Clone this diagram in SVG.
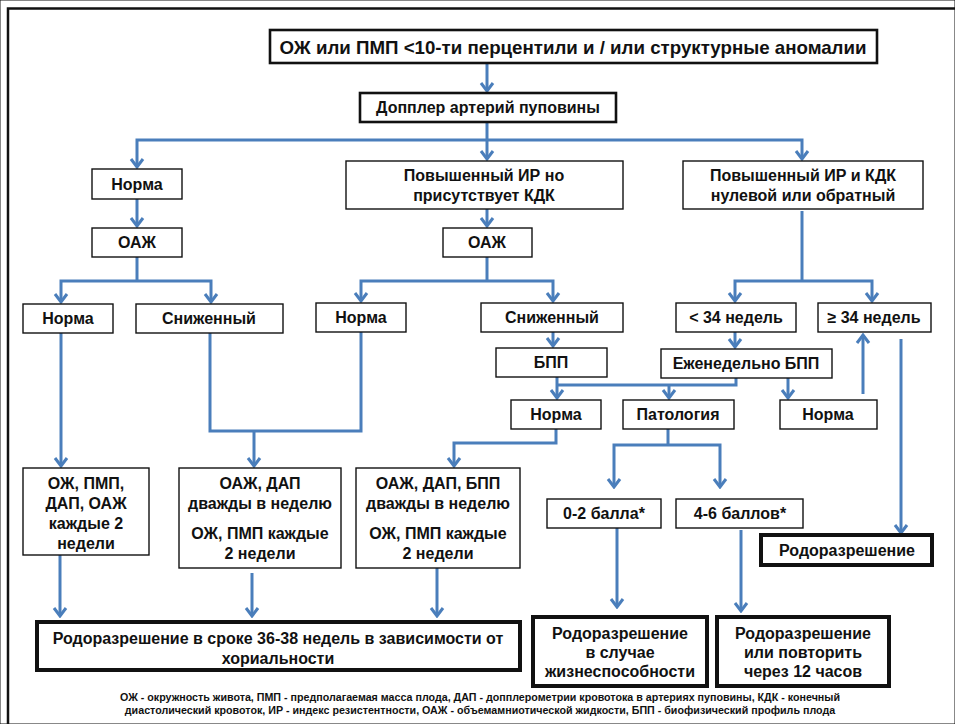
<svg xmlns="http://www.w3.org/2000/svg" width="955" height="724" viewBox="0 0 955 724">
<defs>
<marker id="ah" viewBox="-10 -8 12 16" markerWidth="12" markerHeight="16" refX="0" refY="0" orient="auto" markerUnits="userSpaceOnUse">
<path d="M-8,-6 L0,0 L-8,6" fill="none" stroke="#4A7EBB" stroke-width="3"/>
</marker>
<style>
text{font-family:"Liberation Sans",Arial,sans-serif;font-weight:bold;fill:#111;text-anchor:middle}
.t{font-size:16px}
.big{font-size:19px}
.fn{font-size:10.7px}
rect{fill:#fff;stroke:#111}
.n rect{stroke-width:1.4}
.k rect{stroke-width:2.6}
.kk rect{stroke-width:4}
#conn path{fill:none;stroke:#4A7EBB;stroke-width:3}
#conn .a{marker-end:url(#ah)}
</style>
</defs>
<rect width="955" height="724" fill="#fff" stroke="none"/>
<path d="M8,724 V8.5 H955" fill="none" stroke="#111" stroke-width="2.5"/>

<g id="conn">
<path class="a" d="M487,63 V91"/>
<path class="a" d="M487,122 V159"/>
<path class="a" d="M487,140 H137 V167"/>
<path class="a" d="M487,140 H802 V159"/>
<path class="a" d="M137,199 V226"/>
<path class="a" d="M487,209 V226"/>
<path d="M137,257 V281"/>
<path class="a" d="M137,281 H61 V302"/>
<path class="a" d="M137,281 H211 V302"/>
<path d="M487,257 V281"/>
<path class="a" d="M487,281 H361 V301"/>
<path class="a" d="M487,281 H553 V301"/>
<path d="M802,211 V281"/>
<path class="a" d="M802,281 H735 V301"/>
<path class="a" d="M802,281 H872 V301"/>
<path class="a" d="M553,332 V346"/>
<path class="a" d="M735,332 V347"/>
<path d="M736,378 V385 H557"/>
<path class="a" d="M557,377 V398"/>
<path class="a" d="M669,385 V398"/>
<path class="a" d="M788,378 V398"/>
<path class="a" d="M863,394 V335"/>
<path class="a" d="M901,339 V533"/>
<path class="a" d="M61,333 V466"/>
<path d="M210,333 V431 H361 V332"/>
<path class="a" d="M254,431 V466"/>
<path class="a" d="M556,429 V443 H454 V466"/>
<path d="M668,429 V445"/>
<path class="a" d="M668,445 H614 V487"/>
<path class="a" d="M668,445 H720 V487"/>
<path class="a" d="M617,528 V607"/>
<path class="a" d="M741,530 V611"/>
<path class="a" d="M60,555 V616"/>
<path class="a" d="M252,573 V616"/>
<path class="a" d="M437,568 V616"/>
</g>

<g id="n-top" class="k"><rect x="270" y="30" width="607" height="33"/><text class="big" x="573" y="54" textLength="587" lengthAdjust="spacingAndGlyphs">ОЖ или ПМП &lt;10-ти перцентили и / или структурные аномалии</text></g>
<g id="n-doppler" class="k"><rect x="360" y="93" width="256" height="29"/><text class="t" x="488" y="113">Допплер артерий пуповины</text></g>
<g id="n-norma1" class="n"><rect x="92" y="169" width="90" height="30"/><text class="t" x="137" y="190">Норма</text></g>
<g id="n-ir-kdk" class="n"><rect x="346" y="161" width="277" height="48"/><text class="t" x="484" y="181">Повышенный ИР но</text><text class="t" x="484" y="201">присутствует КДК</text></g>
<g id="n-ir-zero" class="n"><rect x="683" y="161" width="240" height="48"/><text class="t" x="803" y="181">Повышенный ИР и КДК</text><text class="t" x="803" y="201">нулевой или обратный</text></g>
<g id="n-oaj1" class="n"><rect x="92" y="228" width="90" height="29"/><text class="t" x="137" y="248">ОАЖ</text></g>
<g id="n-oaj2" class="n"><rect x="443" y="228" width="89" height="29"/><text class="t" x="487" y="248">ОАЖ</text></g>
<g id="n-normaL" class="n"><rect x="23" y="304" width="90" height="29"/><text class="t" x="68" y="324">Норма</text></g>
<g id="n-snizhL" class="n"><rect x="136" y="304" width="147" height="29"/><text class="t" x="209" y="324">Сниженный</text></g>
<g id="n-norma2" class="n"><rect x="316" y="303" width="90" height="29"/><text class="t" x="361" y="323">Норма</text></g>
<g id="n-snizh2" class="n"><rect x="481" y="303" width="142" height="29"/><text class="t" x="552" y="323">Сниженный</text></g>
<g id="n-lt34" class="n"><rect x="676" y="303" width="120" height="29"/><text class="t" x="736" y="323">&lt; 34 недель</text></g>
<g id="n-ge34" class="n"><rect x="818" y="303" width="113" height="29"/><text class="t" x="874" y="323">≥ 34 недель</text></g>
<g id="n-bpp" class="n"><rect x="496" y="348" width="111" height="29"/><text class="t" x="551" y="368">БПП</text></g>
<g id="n-weekly" class="n"><rect x="661" y="349" width="171" height="29"/><text class="t" x="746" y="369">Еженедельно БПП</text></g>
<g id="n-norma-mid" class="n"><rect x="511" y="400" width="90" height="29"/><text class="t" x="556" y="420">Норма</text></g>
<g id="n-path" class="n"><rect x="623" y="400" width="111" height="29"/><text class="t" x="678" y="420">Патология</text></g>
<g id="n-norma3" class="n"><rect x="780" y="400" width="97" height="29"/><text class="t" x="828" y="420">Норма</text></g>
<g id="n-mon1" class="n"><rect x="23" y="468" width="126" height="87"/><text class="t" x="86" y="489">ОЖ, ПМП,</text><text class="t" x="86" y="509">ДАП, ОАЖ</text><text class="t" x="86" y="529">каждые 2</text><text class="t" x="86" y="549">недели</text></g>
<g id="n-mon2" class="n"><rect x="179" y="468" width="162" height="100"/><text class="t" x="260" y="489">ОАЖ, ДАП</text><text class="t" x="260" y="509">дважды в неделю</text><text class="t" x="260" y="539">ОЖ, ПМП каждые</text><text class="t" x="260" y="559">2 недели</text></g>
<g id="n-mon3" class="n"><rect x="356" y="468" width="164" height="100"/><text class="t" x="438" y="489">ОАЖ, ДАП, БПП</text><text class="t" x="438" y="509">дважды в неделю</text><text class="t" x="438" y="539">ОЖ, ПМП каждые</text><text class="t" x="438" y="559">2 недели</text></g>
<g id="n-02" class="n"><rect x="547" y="499" width="114" height="29"/><text class="t" x="604" y="519">0-2 балла*</text></g>
<g id="n-46" class="n"><rect x="676" y="499" width="127" height="29"/><text class="t" x="740" y="519">4-6 баллов*</text></g>
<g id="n-deliv" class="kk"><rect x="761" y="535" width="171" height="30"/><text class="t" x="847" y="556">Родоразрешение</text></g>
<g id="n-deliv36" class="kk"><rect x="37" y="622" width="483" height="48"/><text class="t" x="278" y="644">Родоразрешение в сроке 36-38 недель в зависимости от</text><text class="t" x="278" y="664">хориальности</text></g>
<g id="n-deliv02" class="kk"><rect x="533" y="617" width="174" height="69"/><text class="t" x="620" y="639">Родоразрешение</text><text class="t" x="620" y="658">в случае</text><text class="t" x="620" y="677">жизнеспособности</text></g>
<g id="n-deliv46" class="kk"><rect x="717" y="617" width="172" height="69"/><text class="t" x="803" y="639">Родоразрешение</text><text class="t" x="803" y="658">или повторить</text><text class="t" x="803" y="677">через 12 часов</text></g>

<g id="footnote">
<text class="fn" x="480" y="701">ОЖ - окружность живота, ПМП - предполагаемая масса плода, ДАП - допплерометрии кровотока в артериях пуповины, КДК - конечный</text>
<text class="fn" x="480" y="714">диастолический кровоток, ИР - индекс резистентности, ОАЖ - объемамниотической жидкости, БПП - биофизический профиль плода</text>
</g>
</svg>
